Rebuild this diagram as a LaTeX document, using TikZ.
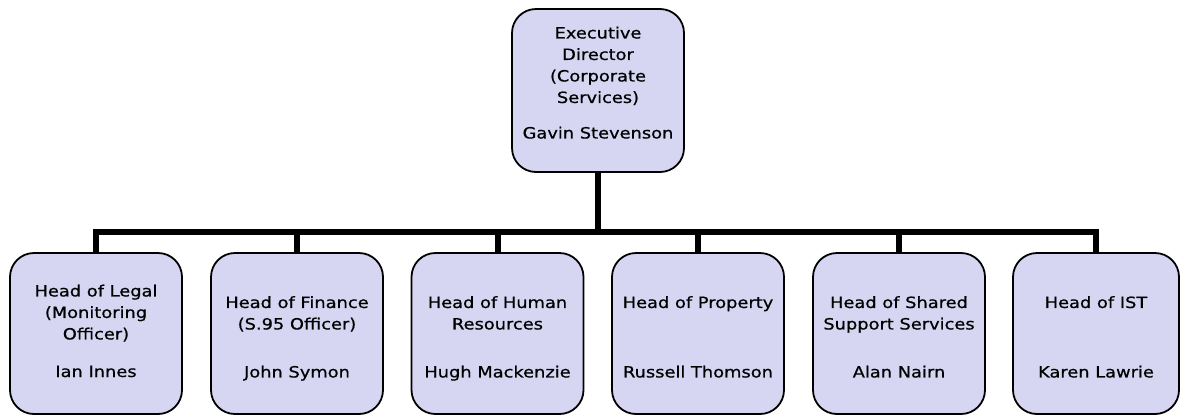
\documentclass[tikz,border=0pt]{standalone}
\usepackage{fontspec}
\setmainfont{DejaVu Sans}[FakeStretch=1.15, FakeBold=0.6]
\definecolor{boxfill}{RGB}{214,214,242}
\begin{document}
\begin{tikzpicture}[x=1pt,y=-1pt,
  post/.style={draw=black, line width=1.8pt, fill=boxfill, rounded corners=24pt,
    minimum width=172pt, minimum height=161pt, inner sep=0pt},
  caption/.style={align=center, anchor=north, inner sep=0pt,
    font=\fontsize{15.5}{21.5}\selectfont},
  conn/.style={draw=black, line width=6pt, line join=miter}]
\useasboundingbox (0,0) rectangle (1180,416);

% Director
\node[post, minimum height=163pt] (top) at (598,90.5) {};
\node[caption] (topt) at (598,26.5) {Executive\\Director\\(Corporate\\Services)};
\node[caption] (topn) at (598,126.5) {Gavin Stevenson};

% Heads of service
\node[post] (b1) at (96,333.5) {};
\node[post] (b2) at (297,333.5) {};
\node[post] (b3) at (497.5,333.5) {};
\node[post] (b4) at (698,333.5) {};
\node[post] (b5) at (899,333.5) {};
\node[post, minimum width=166pt] (b6) at (1096,333.5) {};

\node[caption] (t1) at (96,284.5) {Head of Legal\\(Monitoring\\Officer)};
\node[caption] (t2) at (297,296) {Head of Finance\\(S.95 Officer)};
\node[caption] (t3) at (497.5,296) {Head of Human\\Resources};
\node[caption] (t4) at (698,296) {Head of Property};
\node[caption] (t5) at (899,296) {Head of Shared\\Support Services};
\node[caption] (t6) at (1096,296) {Head of IST};

\node[caption] (n1) at (96,365.5) {Ian Innes};
\node[caption] (n2) at (297,365.5) {John Symon};
\node[caption] (n3) at (497.5,365.5) {Hugh Mackenzie};
\node[caption] (n4) at (698,365.5) {Russell Thomson};
\node[caption] (n5) at (899,365.5) {Alan Nairn};
\node[caption] (n6) at (1096,365.5) {Karen Lawrie};

% Reporting lines
\coordinate (bar) at (598,231.5);
\draw[conn] (top.south) -- (top.south |- bar);
\draw[conn] (b1.north) |- (bar) -| (b6.north);
\foreach \i in {2,...,5}
  \draw[conn] (b\i.north) -- (b\i.north |- bar);
\end{tikzpicture}
\end{document}
